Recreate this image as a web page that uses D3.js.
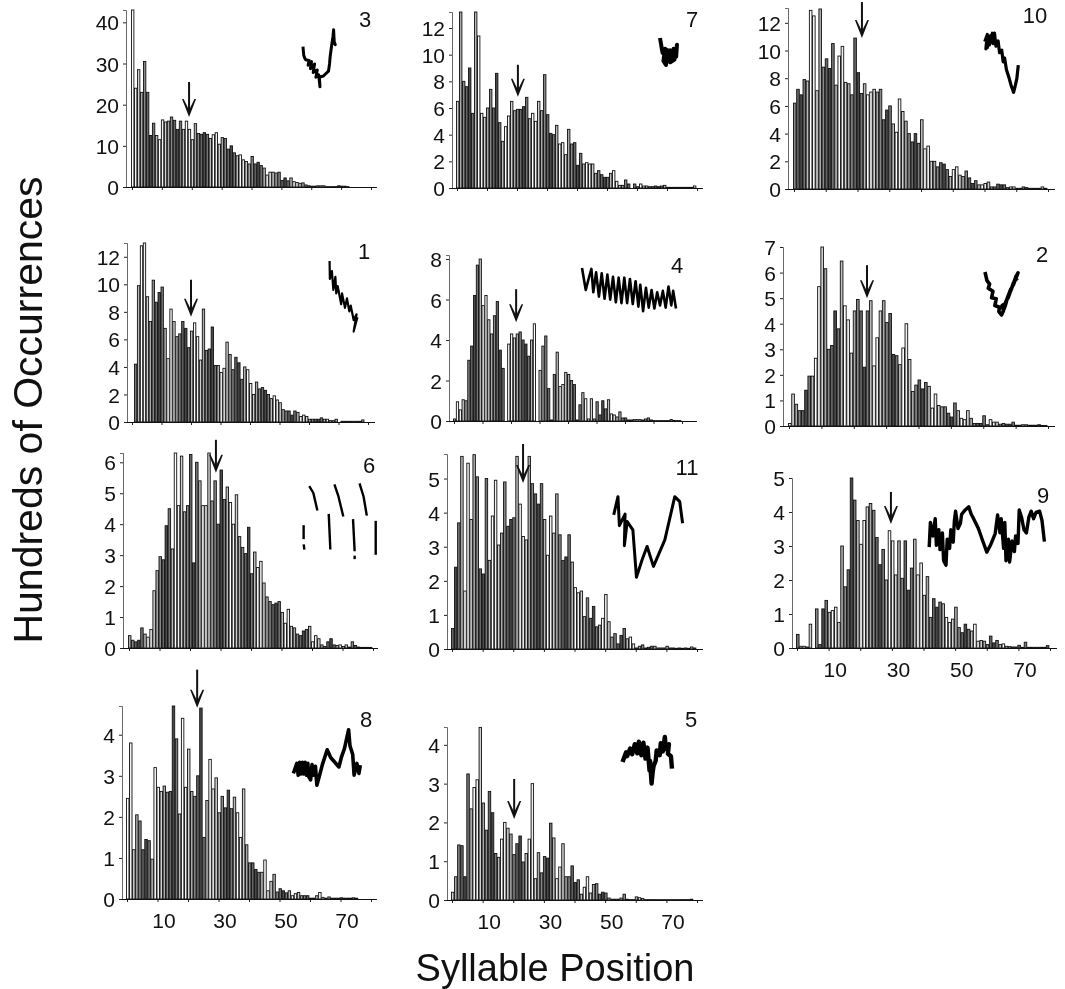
<!DOCTYPE html>
<html>
<head>
<meta charset="utf-8">
<script src="https://cdn.jsdelivr.net/npm/d3@7"></script>
<style>
  html, body { margin: 0; padding: 0; background: #fff; }
  svg { display: block; filter: blur(0.3px); }
  text { font-family: "Liberation Sans", Arial, sans-serif; fill: #111; }
</style>
</head>
<body>
<div id="root"></div>
<script>
// bar heights, hundreds of occurrences, one value per syllable position from 0
const counts3 = [43,24,28.5,23,30.5,23,12.5,15.5,12.5,11.5,16.3,15.8,16,17,16.2,14,16,14,16,14,11.5,15.4,13,12.8,13.2,12.8,11.8,12.7,13.2,10.4,12,11.8,9.2,10,8.3,7.6,7.8,6.6,6.2,5.6,7.4,5.6,6,5.2,4.6,2.9,3.6,3.6,3.4,3.6,1.6,2.2,1.5,2.2,1.3,1.1,0.9,1,0.5,0.3,0.2,0.2,0.3,0.3,0.3,0.1,0.1,0.1,0.1,0.3,0.2,0.2,0.1];
const counts7 = [6.5,13.2,8,7.6,9,5.6,13.2,11.4,5.6,5.3,6,7.4,6,8.6,4.9,3.5,4.6,5.4,6.5,5.8,5.9,5.9,6.1,6.8,5.2,5.6,5,6.5,5.8,8.5,5.5,4.1,4,4.7,3.3,3.4,2.5,4.4,3.3,3.4,1.7,2.6,1.8,1.9,1.8,1.8,1.1,1.3,1,0.8,0.8,1.1,1.3,0.5,0.2,0.2,0.6,0.3,0,0.3,0.1,0.3,0.15,0.15,0.1,0.1,0.15,0.1,0.15,0.2,0.05,0.05,0.05,0.05,0.05,0.05,0.05,0.05,0.05,0.15];
const counts10 = [6.2,7.2,6.8,7.9,7.8,12.9,12.5,7.1,13,8.8,9.4,8.7,10.5,7.5,9.6,10.3,7.7,7.6,6.8,10.9,8.4,6.9,7.6,6.8,7,7.2,7,7.2,5,5.7,6,4.7,4.1,6.5,5.6,4.9,4,3.4,4,3.3,5,2.9,3.1,2,2,1.6,1.9,1.8,1.4,0.9,1.4,1.6,1,0.9,1.3,0.8,0.4,0.6,0.3,0.3,0.4,0.5,0.15,0.15,0.35,0.3,0.3,0.1,0.15,0.15,0.05,0.05,0.15,0.1,0.05,0.05,0.05,0.05,0.15,0.05];
const counts1 = [0,4.2,9.9,12.8,13,9.1,7.3,10.3,8.7,9.4,9.8,6.8,4.6,8.2,7.3,6.2,6.4,7.3,6.8,5.4,6.6,7.2,6.2,4.5,8.2,5.2,5.3,6.9,4.1,4.1,3.6,3.9,5.8,4.9,3.8,4.7,4.3,3.1,4,3.8,2.8,2,2.9,2.4,2.5,2.3,2,1.7,1.9,1.6,1.4,0.9,0.8,0.8,0.5,0.8,0.7,0.4,0.5,0.4,0.2,0.2,0.2,0.2,0.3,0.2,0.2,0.1,0.1,0.2,0,0.05,0.05,0.05,0.05,0.05,0.05,0.05,0.15];
const counts4 = [0.1,0.95,0.55,1.05,1,3,3.7,6.2,7.7,8,5.7,6.2,5,4.3,5.2,5.9,3.5,2.6,0,3.8,4.3,4.1,4.3,4.4,4,3.8,3.2,4,4.8,0,2.5,3.7,4.2,1.6,0.05,2.3,3.4,1.7,1.8,2.4,2.3,2,1.8,0.05,0.8,1.4,1.1,0.1,1.1,0.1,0.95,0.3,1,0.6,1.05,0.35,0.3,0.2,0.45,0.15,0.15,0.05,0.05,0.07,0.07,0.07,0.05,0.1,0.15,0.05,0.02,0.02,0.02,0.02,0.02,0.02,0.07,0.03,0.02,0.02];
const counts2 = [0.1,1.25,0.85,0.6,0.6,1.4,1.95,1.95,2.65,5.45,7,6.15,3,3.15,4.5,3.8,6.45,4.7,4.15,2.85,4.5,4.95,4.5,2.3,4.5,4.9,2.35,3.45,4.5,4.9,4.05,4.4,2.8,2.75,2.4,3.05,4,2.6,1.35,1.6,1.8,1.45,1.7,1.55,0.7,1.25,0.8,0.75,0.75,0.5,0.35,0.9,0.6,0.3,0.25,0.6,0.3,0.1,0.1,0.1,0.4,0.05,0.25,0.15,0.15,0.07,0.1,0.07,0.07,0.15,0.03,0.03,0.05,0.05,0.03,0.03,0.03,0.05,0.02,0.02];
const counts6 = [0.4,0.25,0.2,0.25,0.65,0.45,0.35,0.6,1.85,2.5,2.95,2.85,3.95,4.5,3.2,6.3,4.6,6.2,4.4,4.6,6.25,2.75,6,5.4,4.6,4.6,6.3,4.75,5.4,4,5.75,4.8,5.2,4.7,4,4.95,3.6,3.25,3.05,3.9,2.4,3.1,2.6,2.8,2.1,1.65,1.5,1.4,1.45,1.5,1.15,0.8,1.25,0.7,0.65,0.45,0.4,0.55,0.6,0.7,0.2,0.4,0.3,0.1,0.05,0.2,0.3,0.1,0.08,0.1,0.05,0.1,0.03,0.2,0.08,0.03,0.02,0.02,0.02,0.02];
const counts11 = [0.6,2.4,3.7,5.65,1.7,5.45,3.8,5.7,5.05,2.35,2.2,5,2.6,3.9,4.95,3.05,3.4,4.9,3.6,3.8,3.85,5.65,4.25,3.3,3.2,5.65,4.85,4.55,4.25,4.85,3.8,2.75,3.9,3.4,4.55,3.35,2.6,2.7,3.35,2.55,1.8,1.65,1.7,0.95,1.5,0.9,1.25,0.65,0.7,0.9,1.6,0.8,0.35,0.45,0.15,0.4,0.6,0.3,0.35,0.15,0.03,0.08,0.12,0.03,0.05,0.08,0.08,0.03,0.03,0.03,0.08,0.03,0.03,0.02,0.03,0.02,0.03,0.02,0.06,0.03];
const counts9 = [0.4,0.05,0.05,0.03,0.7,0,1.15,0.1,1.15,1.4,1.05,1.1,1.2,0.75,3,1.8,2.3,5,4.35,3.75,3.05,3.75,4.15,4.25,4.05,3.25,2.45,2.9,2,3.45,3.15,2.15,3.15,2.05,3.15,1.7,2.35,3.2,2.15,2.5,1.55,2.1,0.9,1.45,1.2,1.35,1.3,0.9,0.75,0.85,1.2,0.6,0.45,0.7,0.55,0.5,0.7,0.2,0.22,0.2,0.1,0.35,0.15,0.22,0.1,0.12,0.05,0.04,0.03,0.03,0.08,0.02,0.17,0.02,0.02,0.02,0.02,0.02,0.02,0.07];
const counts8 = [2.45,3.8,1.2,2.05,1.9,1.2,1.45,1.42,0.97,3.2,2.72,2.62,2.75,2.6,2.62,4.7,3.9,2.07,4.4,2.72,3.65,2.62,2.5,3,4.65,1.5,2.4,3.4,2.68,2.95,2.1,2.5,2.22,2.65,2.2,2.48,2.1,1.5,2.68,1.32,0.88,0.88,0.72,0.65,0.65,0.95,0.2,0.43,0.6,0.17,0.25,0.2,0.15,0.2,0.08,0.13,0.16,0.08,0.08,0.08,0.02,0.02,0.08,0.16,0.04,0.02,0.05,0.02,0.02,0.02,0.03,0.02,0.02,0.02,0.03,0.02];
const counts5 = [0.2,0.6,1.42,1.4,0.6,3.25,2.35,2.9,3.1,4.45,2.5,1.8,2.8,2.25,1.2,1.1,1.57,2,1.85,1.7,1.17,1.45,1.65,0.98,1.2,1.57,3,0.55,1.22,0.7,1.12,1.08,1.98,1.6,0.55,0.85,1.45,0.6,0.6,0.88,0.45,0.52,0.15,0.33,0.6,0.18,0.4,0.42,0.15,0.2,0.18,0.05,0.02,0.02,0.02,0.05,0.15,0.02,0.01,0.01,0.08,0.06,0.04,0.01,0.01,0.01,0.01,0.01,0.01,0.01,0.01,0.01,0.01,0.01,0.01,0.01,0.01,0.01,0.02];

// y tick labels per panel
const ticks3 = [0,10,20,30,40];
const ticks7 = [0,2,4,6,8,10,12];
const ticks10 = [0,2,4,6,8,10,12];
const ticks1 = [0,2,4,6,8,10,12];
const ticks4 = [0,2,4,6,8];
const ticks2 = [0,1,2,3,4,5,6,7];
const ticks6 = [0,1,2,3,4,5,6];
const ticks11 = [0,1,2,3,4,5];
const ticks9 = [0,1,2,3,4,5];
const ticks8 = [0,1,2,3,4];
const ticks5 = [0,1,2,3,4];

const xTicks = [0,10,20,30,40,50,60,70,80];
const xLabels = [10,30,50,70];

// sample pitch contours, time and pitch on a 0-100 scale, one list per stroke
const contour3 = [[[0,69],[2,55],[5,50],[8,47],[18,46],[15,38],[25,44],[22,32],[34,40],[30,26],[42,30],[38,18],[46,22],[50,2],[48,18],[60,20],[75,28],[78,40],[80,53],[84,70],[88,85],[90,97],[92,75],[95,72],[90,80]]];
const contour7 = [[[0,100],[15,45],[30,60],[20,15],[35,0],[40,40],[55,20],[60,55],[75,25],[80,60],[95,30],[100,75],[85,20],[60,10],[30,30],[10,60],[45,55],[25,40],[70,45],[50,30],[90,50]]];
const contour10 = [[[5,79],[12,90],[8,68],[16,86],[12,70],[20,88],[18,74],[26,92],[28,76],[32,92],[36,72],[42,80],[46,62],[52,66],[56,48],[60,54],[65,36],[72,24],[78,12],[85,1],[90,12],[94,22],[98,43]]];
const contour1 = [[[2,100],[3,75],[10,86],[15,60],[22,78],[25,55],[30,65],[42,40],[45,55],[55,35],[62,48],[70,30],[75,38],[85,18],[95,26],[85,2],[98,22]]];
const contour4 = [[[0,100],[4,50],[7,75],[10,98],[12,45],[15,90],[18,35],[21,88],[24,30],[27,85],[30,28],[33,80],[36,22],[39,78],[42,20],[45,78],[48,20],[51,75],[54,18],[57,70],[60,12],[62,62],[65,2],[68,55],[71,10],[74,50],[77,8],[80,45],[83,15],[86,48],[89,10],[92,58],[95,15],[97,48],[100,8]]];
const contour2 = [[[0,100],[6,80],[14,72],[10,62],[24,55],[20,40],[34,38],[30,22],[44,18],[42,8],[50,0],[56,10],[52,22],[64,28],[58,14],[70,44],[62,28],[78,60],[70,40],[86,74],[78,56],[94,90],[86,70],[100,98],[92,86],[98,80]]];
const contour6 = [[[9,85],[14,77],[19,57]],[[40,87],[45,73],[51,50]],[[71,88],[76,73],[80,51]],[[2,40],[2,24]],[[2,18],[3,12]],[[33,53],[35,12]],[[63,47],[65,10]],[[65,5],[65,1]],[[91,45],[91,6]]];
const contour11 = [[[1,76],[7,98],[9,63],[17,77],[16,39],[20,68],[28,58],[33,1],[41,22],[48,38],[57,14],[73,46],[87,98],[94,92],[98,66]]];
const contour9 = [[[1,32],[2,72],[4,50],[6,78],[7,35],[9,60],[10,28],[12,55],[13,10],[15,3],[16,45],[18,30],[19,60],[21,40],[22,75],[23,90],[25,62],[27,70],[28,85],[31,92],[34,97],[36,85],[38,78],[42,62],[46,40],[49,24],[52,35],[56,54],[58,84],[60,55],[61,78],[63,30],[64,72],[65,10],[67,45],[68,8],[70,42],[72,25],[73,50],[75,38],[76,92],[78,80],[80,60],[82,55],[84,80],[86,90],[88,78],[90,88],[93,90],[95,75],[97,41]]];
const contour8 = [[[2,23],[7,40],[9,20],[11,42],[13,22],[15,42],[17,22],[19,42],[21,20],[23,40],[24,18],[27,12],[29,38],[31,20],[34,35],[36,3],[40,20],[44,38],[51,63],[56,50],[62,42],[68,34],[72,52],[76,65],[82,97],[84,70],[88,55],[90,20],[94,40],[97,23],[99,37]]];
const contour5 = [[[1,48],[8,68],[10,60],[16,76],[20,64],[25,85],[30,66],[33,90],[38,62],[42,88],[46,55],[50,78],[54,30],[55,50],[58,3],[60,25],[62,40],[66,50],[68,72],[74,62],[76,87],[80,70],[84,100],[86,75],[92,85],[90,65],[96,60],[98,34]]];

// where each panel sits on the page
const panels = [
  {id:"3",  counts:counts3,  ticks:ticks3,  contour:contour3,  x0:132, x80:371,  spine:126, right:377,  y0:187, yTop:10,  top:43,   mean:19.1, tip:17,   arrow:35, numX:365,  numY:27,  inset:[303,28,34,60],   lw:3},
  {id:"7",  counts:counts7,  ticks:ticks7,  contour:contour7,  x0:457, x80:697,  spine:452, right:703,  y0:188, yTop:12,  top:13.2, mean:20.3, tip:6.84, arrow:32, numX:692,  numY:27,  inset:[660,38,17,27],   lw:4},
  {id:"10", counts:counts10, ticks:ticks10, contour:contour10, x0:794, x80:1048, spine:788, right:1055, y0:189, yTop:8,   top:13.07,mean:21.4, tip:10.9, arrow:36, numX:1035, numY:23,  inset:[983,28,36,65],   lw:3.2},
  {id:"1",  counts:counts1,  ticks:ticks1,  contour:contour1,  x0:132, x80:368,  spine:127, right:375,  y0:422, yTop:243, top:13,   mean:20,   tip:7.64, arrow:37, numX:364,  numY:259, inset:[329,261,29,72], lw:2.2},
  {id:"4",  counts:counts4,  ticks:ticks4,  contour:contour4,  x0:454, x80:682,  spine:449, right:697,  y0:421, yTop:255, top:8.2,  mean:21.8, tip:4.88, arrow:33, numX:677,  numY:273, inset:[582,268,94,44], lw:2.6},
  {id:"2",  counts:counts2,  ticks:ticks2,  contour:contour2,  x0:789, x80:1048, spine:783, right:1055, y0:426, yTop:247, top:7,    mean:24.1, tip:5,    arrow:33, numX:1042, numY:262, inset:[985,272,33,43], lw:3.6},
  {id:"6",  counts:counts6,  ticks:ticks6,  contour:contour6,  x0:129, x80:373,  spine:123, right:378,  y0:648, yTop:453, top:6.3,  mean:28.5, tip:5.66, arrow:33, numX:369,  numY:473, inset:[302,473,81,87], lw:2.4},
  {id:"11", counts:counts11, ticks:ticks11, contour:contour11, x0:452, x80:697,  spine:447, right:703,  y0:649, yTop:454, top:5.72, mean:23.2, tip:4.87, arrow:39, numX:687,  numY:475, inset:[613,495,71,83], lw:3},
  {id:"9",  counts:counts9,  ticks:ticks9,  contour:contour9,  x0:797, x80:1050, spine:792, right:1057, y0:648, yTop:478, top:5,    mean:29.7, tip:3.65, arrow:32, numX:1043, numY:503, inset:[928,505,120,62],lw:3.4, labels:true},
  {id:"8",  counts:counts8,  ticks:ticks8,  contour:contour8,  x0:127, x80:371,  spine:122, right:377,  y0:899, yTop:706, top:4.7,  mean:23,   tip:4.66, arrow:38, numX:366,  numY:727, inset:[292,728,69,59], lw:3.6, labels:true},
  {id:"5",  counts:counts5,  ticks:ticks5,  contour:contour5,  x0:452, x80:697,  spine:447, right:703,  y0:900, yTop:727, top:4.46, mean:20.3, tip:2.09, arrow:40, numX:691,  numY:727, inset:[622,737,51,48], lw:4.4, labels:true}
];

// moire of the printed bars, cycles through the panel
const barShades = ["#fff","#f2f2f2","#d0d0d0","#aaa","#888","#666","#4a4a4a","#777","#bbb"];

const svg = d3.select("#root")
    .append("svg")
    .attr("width", 1065)
    .attr("height", 989);

function drawPanel(p, panelIndex) {
    let scaleX = d3.scaleLinear().domain([0, 80]).range([p.x0, p.x80]);
    let scaleY = d3.scaleLinear().domain([0, p.top]).range([p.y0, p.yTop]).clamp(true);
    let g = svg.append("g").attr("class", "panel");
    let barWidth = scaleX(1) - scaleX(0);

    g.selectAll(".bar")
        .data(p.counts)
        .enter().append("rect")
        .attr("class", "bar")
        .attr("x", (d, i) => scaleX(i) - 0.5)
        .attr("y", d => scaleY(d))
        .attr("width", barWidth - 0.6)
        .attr("height", d => p.y0 - scaleY(d))
        .attr("fill", (d, i) => barShades[(i + panelIndex * 2) % barShades.length])
        .attr("stroke", "#111")
        .attr("stroke-width", 0.9);

    // y axis
    let yAxis = d3.axisLeft(scaleY)
        .tickValues(p.ticks)
        .tickFormat(d3.format("d"))
        .tickSize(3)
        .tickPadding(4);
    let yG = g.append("g")
        .attr("transform", `translate(${p.spine}, 0)`)
        .call(yAxis);
    yG.select(".domain").attr("stroke", "#444").attr("stroke-width", 0.8);
    yG.selectAll(".tick line").attr("stroke", "#222");
    yG.selectAll("text").style("font-size", "21px").attr("dy", "0.36em");

    // x axis, only the bottom row of each column has numbers
    let xAxis = d3.axisBottom(scaleX)
        .tickValues(xTicks)
        .tickSize(3)
        .tickSizeOuter(0)
        .tickPadding(p.labels ? 11 : 2)
        .tickFormat(d => (p.labels && xLabels.includes(d)) ? d : "");
    let xG = g.append("g")
        .attr("transform", `translate(0, ${p.y0})`)
        .call(xAxis);
    xG.select(".domain").remove();
    xG.selectAll(".tick line").attr("stroke", "#222");
    xG.selectAll("text").style("font-size", "21px").attr("dx", 6);
    g.append("line")
        .attr("x1", p.spine).attr("x2", p.right)
        .attr("y1", p.y0 + 0.5).attr("y2", p.y0 + 0.5)
        .attr("stroke", "#111")
        .attr("stroke-width", 1.1);

    // arrow marks the mean position
    let ax = scaleX(p.mean);
    let ay = scaleY(p.tip);
    g.append("path")
        .attr("d", `M${ax},${ay - p.arrow}V${ay - 6}`)
        .attr("stroke", "#111").attr("stroke-width", 2).attr("fill", "none");
    g.append("path")
        .attr("d", `M${ax - 7},${ay - 18}L${ax - 5.4},${ay - 18}L${ax},${ay - 7}L${ax + 5.4},${ay - 18}L${ax + 7},${ay - 18}L${ax},${ay}Z`)
        .attr("fill", "#111");

    // contour inset
    let [bx, by, bw, bh] = p.inset;
    let insetX = d3.scaleLinear().domain([0, 100]).range([bx, bx + bw]);
    let insetY = d3.scaleLinear().domain([0, 100]).range([by + bh, by]);
    let line = d3.line().x(d => insetX(d[0])).y(d => insetY(d[1]));
    g.selectAll(".contour")
        .data(p.contour)
        .enter().append("path")
        .attr("class", "contour")
        .attr("d", line)
        .attr("fill", "none")
        .attr("stroke", "#000")
        .attr("stroke-width", p.lw)
        .attr("stroke-linejoin", "round");

    g.append("text")
        .attr("x", p.numX)
        .attr("y", p.numY)
        .attr("text-anchor", "middle")
        .style("font-size", "22px")
        .text(p.id);
}

panels.forEach(drawPanel);

svg.append("text")
    .attr("transform", "translate(42, 410) rotate(-90)")
    .attr("text-anchor", "middle")
    .style("font-size", "41px")
    .text("Hundreds of Occurrences");

svg.append("text")
    .attr("x", 555)
    .attr("y", 981)
    .attr("text-anchor", "middle")
    .style("font-size", "38px")
    .text("Syllable Position");
</script>
</body>
</html>
